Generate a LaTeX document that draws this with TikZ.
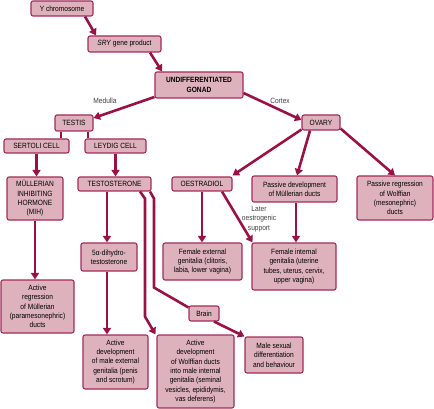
\documentclass[tikz,border=0pt]{standalone}
\usepackage{fontspec}
\setmainfont{Liberation Sans}[FakeStretch=0.87]
\usetikzlibrary{arrows.meta,calc}
\definecolor{boxfill}{HTML}{DDB2BC}
\definecolor{boxline}{HTML}{A52A5A}
\definecolor{conn}{HTML}{9B1145}
\begin{document}
\begin{tikzpicture}[x=1pt,y=-1pt,
  box/.style={draw=boxline,fill=boxfill,line width=1.1pt,rounded corners=2pt,
    inner sep=0pt,align=center,font=\fontsize{7.6}{9.3}\selectfont},
  conn/.style={draw=conn,line width=2.6pt},
  arr/.style={conn,-{Triangle[length=6.5pt,width=8pt]}},
  lbl/.style={font=\fontsize{7.6}{9.3}\selectfont,text=black!75,align=center,inner sep=0pt}]
\useasboundingbox (0,0) rectangle (434,409);
% nodes
\node[box,minimum width=62pt,minimum height=15pt] (yc) at (62,8.5) {Y chromosome};
\node[box,minimum width=73pt,minimum height=16pt] (sry) at (124.5,44) {\textit{SRY} gene product};
\node[box,minimum width=88pt,minimum height=26pt,font=\fontsize{7.6}{9.3}\selectfont\bfseries] (gon) at (199,85) {UNDIFFERENTIATED\\GONAD};
\node[box,minimum width=38pt,minimum height=16pt] (testis) at (74,123) {TESTIS};
\node[box,minimum width=38pt,minimum height=15pt] (ovary) at (321,122.5) {OVARY};
\node[box,minimum width=65pt,minimum height=14pt] (sert) at (36.5,146) {SERTOLI CELL};
\node[box,minimum width=61pt,minimum height=14pt] (leyd) at (115.5,146) {LEYDIG CELL};
\node[box,minimum width=56pt,minimum height=43pt] (mih) at (35,198.5) {MÜLLERIAN\\INHIBITING\\HORMONE\\(MIH)};
\node[box,minimum width=73pt,minimum height=14pt] (testo) at (114.5,184) {TESTOSTERONE};
\node[box,minimum width=60pt,minimum height=14pt] (oest) at (202,184) {OESTRADIOL};
\node[box,minimum width=85pt,minimum height=26pt] (pdev) at (294.5,189) {Passive development\\of Müllerian ducts};
\node[box,minimum width=76pt,minimum height=44pt] (preg) at (395,198) {Passive regression\\of Wolffian\\(mesonephric)\\ducts};
\node[box,minimum width=56pt,minimum height=28pt] (dht) at (109,257) {5α-dihydro-\\testosterone};
\node[box,minimum width=79pt,minimum height=37pt] (fext) at (202.5,261.5) {Female external\\genitalia (clitoris,\\labia, lower vagina)};
\node[box,minimum width=84pt,minimum height=47pt] (fint) at (294,266.5) {Female internal\\genitalia (uterine\\tubes, uterus, cervix,\\upper vagina)};
\node[box,minimum width=73pt,minimum height=53pt] (areg) at (37.5,306.5) {Active\\regression\\of Müllerian\\(paramesonephric)\\ducts};
\node[box,minimum width=30pt,minimum height=15pt] (brain) at (204,313.5) {Brain};
\node[box,minimum width=65pt,minimum height=54pt] (mext) at (115.5,362) {Active\\development\\of male external\\genitalia (penis\\and scrotum)};
\node[box,minimum width=77pt,minimum height=73pt] (wolf) at (195.5,371.5) {Active\\development\\of Wolffian ducts\\into male internal\\genitalia (seminal\\vesicles, epididymis,\\vas deferens)};
\node[box,minimum width=58pt,minimum height=36pt] (msex) at (274,355) {Male sexual\\differentiation\\and behaviour};
% labels
\node[lbl] (med) at (105,101) {Medulla};
\node[lbl] (cor) at (280,101) {Cortex};
\node[lbl] (later) at (259,219) {Later\\oestrogenic\\support};
% connectors
\draw[arr] ([xshift=23pt]yc.south) -- ([xshift=-28.5pt]sry.north);
\draw[arr] ([xshift=25.5pt]sry.south) -- ([xshift=-37pt]gon.north);
\draw[arr] ([yshift=-12pt]gon.west) -- ([yshift=5pt]testis.east);
\draw[arr] ([yshift=-8pt]gon.east) -- ([yshift=2.5pt]ovary.west);
\draw[conn] ([xshift=-13pt]testis.south) -- ([xshift=-13pt]testis.south |- sert.north);
\draw[conn] ([xshift=14pt]testis.south) -- ([xshift=14pt]testis.south |- leyd.north);
\draw[arr] (sert.south) -- (sert.south |- mih.north);
\draw[arr] (leyd.south) -- (leyd.south |- testo.north);
\draw[arr] ([xshift=-7.5pt]testo.south) -- ([xshift=-7.5pt]testo.south |- dht.north);
\draw[arr] ([xshift=25.5pt]testo.south) -- ++(5,7) -- ++(0,118) -- ([xshift=-1pt]wolf.north west);
\draw[conn] ([xshift=35.5pt]testo.south) -- ++(4,7) -- ++(0,89) -- ([yshift=-2pt]brain.north west);
\draw[arr] ([xshift=10pt]brain.south) -- (msex.north west);
\draw[arr] (mih.south) -- (mih.south |- areg.north);
\draw[arr] ([xshift=-2pt]dht.south) -- ([xshift=-2pt]dht.south |- mext.north);
\draw[arr] ([yshift=1pt]ovary.south west) -- ([yshift=1pt]oest.north east);
\draw[arr] ([xshift=-11pt]ovary.south) -- ([xshift=2.5pt]pdev.north);
\draw[arr] ([yshift=2pt]ovary.south east) -- (preg.north);
\draw[arr] (oest.south) -- (oest.south |- fext.north);
\draw[arr] ([xshift=20pt]oest.south) -- ([xshift=1pt]fint.north west);
\draw[arr] ([xshift=1.5pt]pdev.south) -- ([xshift=1.5pt]pdev.south |- fint.north);
\end{tikzpicture}
\end{document}
